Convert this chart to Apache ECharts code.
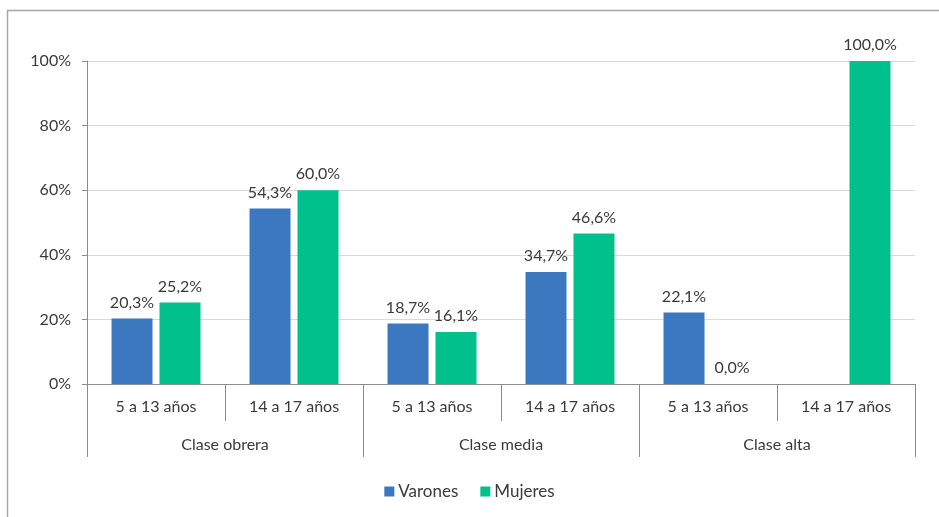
<!DOCTYPE html>
<html>
<head>
<meta charset="utf-8">
<script src="https://cdn.jsdelivr.net/npm/echarts@6/dist/echarts.min.js"></script>
<style>html,body{margin:0;padding:0;background:#fff}#c{width:939px;height:517px}</style>
</head>
<body>
<div id="c"></div>
<script>
const ageCategories = ['5 a 13 años', '14 a 17 años', '5 a 13 años', '14 a 17 años', '5 a 13 años', '14 a 17 años'];
const classGroups = ['Clase obrera', 'Clase media', 'Clase alta'];
const varones = [20.3, 54.3, 18.7, 34.7, 22.1, null];
const mujeres = [25.2, 60.0, 16.1, 46.6, 0.0, 100.0];
const yTicks = [0, 20, 40, 60, 80, 100];

const FONT = 'Lato';
const FS = 16;
const TXT = '#3a3a3a';
const fmt = v => v.toFixed(1).replace('.', ',') + '%';

const chart = echarts.init(document.getElementById('c'));
chart.setOption({
  animation: false,
  textStyle: { fontFamily: FONT },
  graphic: [{
    type: 'rect', shape: { x: 7.5, y: 10.5, width: 1000, height: 600 },
    style: { fill: 'none', stroke: '#a6a6a6', lineWidth: 1.5 }, silent: true, z: -10
  }],
  grid: { left: 87, right: 24, top: 61, bottom: 133 },
  legend: {
    bottom: 12, left: 'center', itemWidth: 10, itemHeight: 10, itemGap: 22,
    icon: 'rect',
    textStyle: { fontFamily: FONT, fontSize: 17, color: TXT, padding: [0, 0, 0, -1] },
    data: ['Varones', 'Mujeres']
  },
  xAxis: [{
    type: 'category', data: ageCategories, position: 'bottom',
    axisLine: { lineStyle: { color: '#8c8c8c', width: 1 } },
    axisTick: { show: true, length: 37, lineStyle: { color: '#8c8c8c' } },
    axisLabel: { fontFamily: FONT, fontSize: FS, color: TXT, margin: 15, interval: 0 }
  }, {
    type: 'category', data: classGroups, position: 'bottom',
    axisLine: { show: false },
    axisTick: { show: true, length: 73, lineStyle: { color: '#8c8c8c' } },
    axisLabel: { fontFamily: FONT, fontSize: FS, color: TXT, margin: 53, interval: 0 }
  }],
  yAxis: {
    type: 'value', min: 0, max: 100, interval: 20,
    axisLine: { show: true, lineStyle: { color: '#8c8c8c' } },
    axisTick: { show: true, length: 5, lineStyle: { color: '#8c8c8c' } },
    splitLine: { lineStyle: { color: '#d9d9d9' } },
    axisLabel: {
      fontFamily: FONT, fontSize: FS, color: TXT, margin: 16,
      formatter: v => yTicks.includes(v) ? v + '%' : ''
    }
  },
  series: [{
    name: 'Varones', type: 'bar', data: varones, xAxisIndex: 0,
    barWidth: 41, barGap: '17%',
    itemStyle: { color: '#3b78bf' },
    label: { show: true, position: 'top', distance: 8, fontFamily: FONT, fontSize: FS, color: TXT,
      formatter: p => p.value == null ? '' : fmt(p.value) }
  }, {
    name: 'Mujeres', type: 'bar', data: mujeres, xAxisIndex: 0,
    barWidth: 41,
    itemStyle: { color: '#00c08b' },
    label: { show: true, position: 'top', distance: 8, fontFamily: FONT, fontSize: FS, color: TXT,
      formatter: p => p.value == null ? '' : fmt(p.value) }
  }]
});
</script>
</body>
</html>
